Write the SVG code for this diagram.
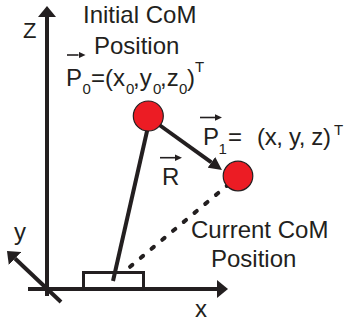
<svg xmlns="http://www.w3.org/2000/svg" width="344" height="328" viewBox="0 0 344 328">
<style>
  text { font-family: "Liberation Sans", Arial, sans-serif; fill: #231F20; font-size: 24px; }
  .sub { font-size: 15px; }
  .ax { stroke: #231F20; stroke-width: 4; fill: none; }
  .vec { stroke: #231F20; stroke-width: 1.6; fill: none; }
  .ball { fill: #EC1C24; stroke: #231F20; stroke-width: 1.2; }
</style>
<defs>
  <marker id="axh" viewBox="0 -9 11 18" refX="0" refY="0" markerWidth="11" markerHeight="18" markerUnits="userSpaceOnUse" orient="auto">
    <path d="M0,-9 L11,0 L0,9 Z" fill="#231F20"/>
  </marker>
  <marker id="vh" viewBox="0 -6.5 13 13" refX="0" refY="0" markerWidth="13" markerHeight="13" markerUnits="userSpaceOnUse" orient="auto">
    <path d="M0,-6.5 L13,0 L0,6.5 Z" fill="#231F20"/>
  </marker>
  <marker id="sh" viewBox="0 -3.3 7 6.6" refX="0" refY="0" markerWidth="7" markerHeight="6.6" markerUnits="userSpaceOnUse" orient="auto">
    <path d="M0,-3.3 L7,0 L0,3.3 Z" fill="#231F20"/>
  </marker>
</defs>

<g id="axes">
  <line class="ax" x1="47" y1="296" x2="47" y2="17" marker-end="url(#axh)"/>
  <line class="ax" x1="28" y1="289" x2="217" y2="289" marker-end="url(#axh)"/>
  <line class="ax" x1="61" y1="302" x2="15" y2="258.5" marker-end="url(#axh)"/>
  <text x="23" y="38" style="font-size:22px">Z</text>
  <text x="14" y="240">y</text>
  <text x="195" y="317">x</text>
</g>

<g id="connectors">
  <line class="ax" x1="150" y1="118" x2="113" y2="281"/>
  <line class="ax" x1="229" y1="184" x2="125" y2="271" stroke-dasharray="3 11" stroke-linecap="round"/>
  <line class="ax" x1="158" y1="124" x2="211.4" y2="162.4" marker-end="url(#vh)"/>
</g>

<g id="foot">
  <rect x="83.5" y="272.5" width="60" height="16.5" fill="none" stroke="#231F20" stroke-width="3"/>
</g>

<g id="initial-com">
  <circle class="ball" cx="148.3" cy="116" r="15"/>
  <text x="83" y="23">Initial CoM</text>
  <text x="94" y="53.5">Position</text>
  <line class="vec" x1="67" y1="55" x2="78.5" y2="55" marker-end="url(#sh)"/>
  <text y="86"><tspan x="66">P</tspan><tspan class="sub" x="82.5" y="93.5">0</tspan><tspan x="91" y="86">=(x</tspan><tspan class="sub" x="126" y="93.5">0</tspan><tspan x="133" y="86">,y</tspan><tspan class="sub" x="153" y="93.5">0</tspan><tspan x="160" y="86">,z</tspan><tspan class="sub" x="179" y="93.5">0</tspan><tspan x="187" y="86">)</tspan><tspan class="sub" x="195" y="72">T</tspan></text>
</g>

<g id="current-com">
  <circle class="ball" cx="238" cy="176" r="14.8"/>
  <text x="191" y="238">Current CoM</text>
  <text x="211" y="267">Position</text>
  <line class="vec" x1="200" y1="117.5" x2="215" y2="117.5" marker-end="url(#sh)"/>
  <text y="145"><tspan x="203">P</tspan><tspan class="sub" x="218.5" y="153.5">1</tspan><tspan x="228" y="145">=</tspan><tspan x="257" y="145" textLength="74">(x, y, z)</tspan><tspan class="sub" x="334" y="135">T</tspan></text>
</g>

<g id="vector-R">
  <line class="vec" x1="160" y1="157.7" x2="175" y2="157.7" marker-end="url(#sh)"/>
  <text x="162" y="185">R</text>
</g>
</svg>
